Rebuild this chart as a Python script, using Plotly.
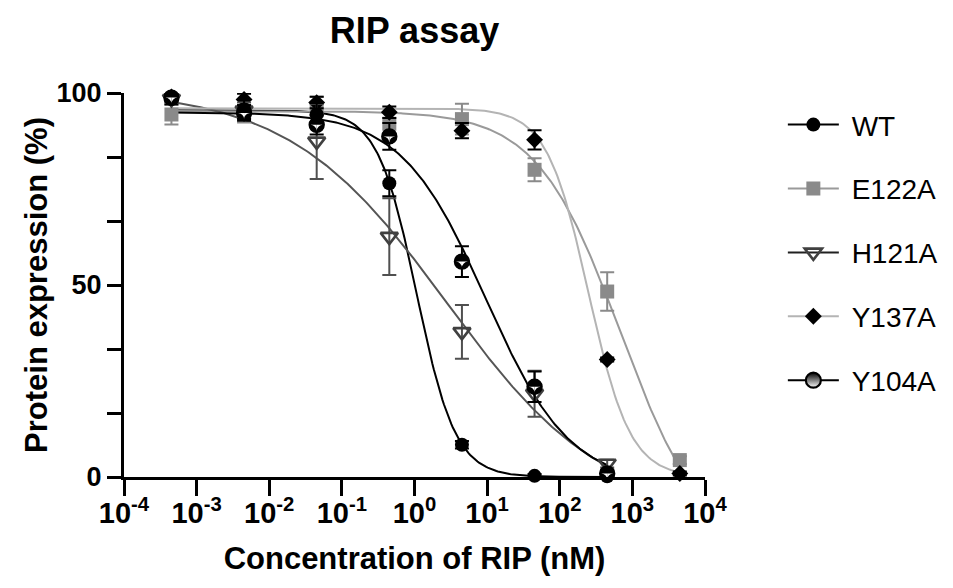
import numpy as np
import plotly.graph_objects as go

# ---------------- data ----------------
conc = [4.5e-4, 4.5e-3, 4.5e-2, 0.45, 4.5, 45, 450, 4500]

wt_y = [98.5, 95.7, 94.4, 76.5, 8.4, 0.3, 0.2]
wt_err = [1.5, 2.5, 3.0, 3.4, 1.0, 0.5, 0.5]

e122a_y = [94.4, 95.3, 95.5, 92.0, 93.2, 80.0, 48.3, 4.4]
e122a_err = [2.6, 3.0, 3.5, 3.0, 4.0, 3.0, 5.0, 1.0]

h121a_y = [98.5, 95.5, 87.4, 62.6, 37.8, 21.7, 3.5]
h121a_err = [1.0, 2.0, 9.8, 10.0, 7.0, 6.0, 1.0]

y137a_y = [99.0, 98.3, 97.5, 95.0, 90.2, 87.8, 30.6, 0.9]
y137a_err = [0.5, 1.5, 1.5, 1.5, 2.0, 2.5, 0.5, 0.5]

y104a_y = [98.8, 94.8, 91.7, 88.7, 56.1, 23.5, 0.9]
y104a_err = [1.0, 2.0, 2.5, 3.5, 4.0, 4.0, 1.0]

# fitted dose-response parameters: top, bottom, logIC50, hill slope
wt_fit = [95.5, 0.0, 0.03, 1.62]
e122a_fit = [95.3, -20.0, 2.836, 0.755]
h121a_fit = [101.0, -10.0, 0.44, 0.40]
y137a_fit = [96.0, 0.0, 2.396, 1.51]
y104a_fit = [95.0, -2.0, 0.98, 0.75]

x_tickvals = [1e-4, 1e-3, 1e-2, 1e-1, 1e0, 1e1, 1e2, 1e3, 1e4]
x_ticktext = ["10<sup>-4</sup>", "10<sup>-3</sup>", "10<sup>-2</sup>", "10<sup>-1</sup>",
              "10<sup>0</sup>", "10<sup>1</sup>", "10<sup>2</sup>", "10<sup>3</sup>",
              "10<sup>4</sup>"]
y_tickvals = [0, 50, 100]
y_ticktext = ["0", "50", "100"]
y_minor_tickvals = [100 / 6, 200 / 6, 400 / 6, 500 / 6]

FONT = "Liberation Sans, Arial, sans-serif"


def fit_curve(params, xmin, xmax):
    top, bottom, logic50, hill = params
    lx = np.linspace(np.log10(xmin), np.log10(xmax), 300)
    y = bottom + (top - bottom) / (1 + 10 ** ((lx - logic50) * hill))
    return 10 ** lx, y


half_circle = dict(symbol="circle", size=15, color="#000000",
                   gradient=dict(type="vertical", color="#ffffff"),
                   line=dict(color="#000000", width=2.2))

series = [
    # name, y, err, fit, line color, marker dict, error color
    ("WT", wt_y, wt_err, wt_fit, "#000000",
     dict(symbol="circle", size=14, color="#000000"), "#000000"),
    ("E122A", e122a_y, e122a_err, e122a_fit, "#9a9a9a",
     dict(symbol="square", size=14, color="#8a8a8a"), "#8a8a8a"),
    ("H121A", h121a_y, h121a_err, h121a_fit, "#555555",
     dict(symbol="triangle-down-open", size=15, color="#404040", line=dict(width=2.6)), "#505050"),
    ("Y137A", y137a_y, y137a_err, y137a_fit, "#b4b4b4",
     dict(symbol="diamond", size=13, color="#000000"), "#000000"),
    ("Y104A", y104a_y, y104a_err, y104a_fit, "#000000", half_circle, "#000000"),
]

fig = go.Figure()

# fitted curves
for name, ys, errs, fit, lc, mk, ec in series:
    xs = conc[:len(ys)]
    cx, cy = fit_curve(fit, xs[0], xs[-1])
    fig.add_trace(go.Scatter(x=cx, y=cy, mode="lines", line=dict(color=lc, width=2),
                             showlegend=False, hoverinfo="skip"))

# markers with error bars
order = ["E122A", "Y137A", "H121A", "WT", "Y104A"]
smap = {s[0]: s for s in series}
for nm in order:
    name, ys, errs, fit, lc, mk, ec = smap[nm]
    xs = conc[:len(ys)]
    if name != "Y104A":
        fig.add_trace(go.Scatter(
            x=xs, y=ys, mode="markers", marker=mk, showlegend=False, cliponaxis=False,
            error_y=dict(type="data", array=errs, visible=True, color=ec, thickness=2, width=7),
        ))
    else:
        # half-filled circle: black disc, white lower half, black ring
        fig.add_trace(go.Scatter(
            x=xs, y=ys, mode="markers", showlegend=False, cliponaxis=False,
            marker=dict(symbol="circle", size=15, color="#000000", line=dict(width=0)),
            error_y=dict(type="data", array=errs, visible=True, color=ec, thickness=2, width=7),
        ))
        for ang in (45, -45):
            fig.add_trace(go.Scatter(
                x=xs, y=ys, mode="markers", showlegend=False, cliponaxis=False,
                hoverinfo="skip",
                marker=dict(symbol="arrow-wide", size=6.2, angle=ang, color="#ffffff",
                            line=dict(width=0)),
            ))
        fig.add_trace(go.Scatter(
            x=xs, y=ys, mode="markers", showlegend=False, cliponaxis=False,
            hoverinfo="skip",
            marker=dict(symbol="circle-open", size=14, color="#000000", line=dict(width=2.4)),
        ))

# legend entries
for name, ys, errs, fit, lc, mk, ec in series:
    fig.add_trace(go.Scatter(
        x=[None], y=[None], mode="lines+markers", name="\u00a0" + name, legendgroup=name,
        line=dict(color=lc if name != "H121A" else "#202020", width=2), marker=mk,
    ))

fig.update_layout(
    width=953, height=588,
    paper_bgcolor="white", plot_bgcolor="white",
    margin=dict(l=116, r=256.4, t=85.3, b=119.3),
    font=dict(family=FONT, color="#000000"),
    title=dict(text="RIP assay", x=0.5, xref="paper", xanchor="center",
               y=1 - 22 / 588, yref="container", yanchor="middle",
               font=dict(size=36, weight="bold", family=FONT)),
    showlegend=True,
    legend=dict(x=1.134, xanchor="left", y=0.982, yanchor="top",
                traceorder="grouped", tracegroupgap=24.5, itemwidth=51,
                font=dict(size=28, family=FONT), bgcolor="rgba(0,0,0,0)"),
    xaxis=dict(type="log", range=[-4, 4], tickvals=x_tickvals, ticktext=x_ticktext,
               automargin=False, ticklabelstandoff=-8,
               showgrid=False, zeroline=False, showline=True, linecolor="#000000",
               linewidth=3, ticks="outside", ticklen=16, tickwidth=3, tickcolor="#000000",
               tickfont=dict(size=29, weight="bold", family=FONT),
               title=dict(text="Concentration of RIP (nM)", standoff=20,
                          font=dict(size=31, weight="bold", family=FONT))),
    yaxis=dict(range=[0, 100], tickvals=y_tickvals, ticktext=y_ticktext,
               automargin=False,
               showgrid=False, zeroline=False, showline=True, linecolor="#000000",
               linewidth=3, ticks="outside", ticklen=14, tickwidth=3, tickcolor="#000000",
               minor=dict(tickvals=y_minor_tickvals, ticks="outside", ticklen=14,
                          tickwidth=3, tickcolor="#000000", showgrid=False),
               tickfont=dict(size=27, weight="bold", family=FONT),
               title=dict(text="Protein expression (%)", standoff=0,
                          font=dict(size=31, weight="bold", family=FONT))),
)

fig.write_html("out.html")
